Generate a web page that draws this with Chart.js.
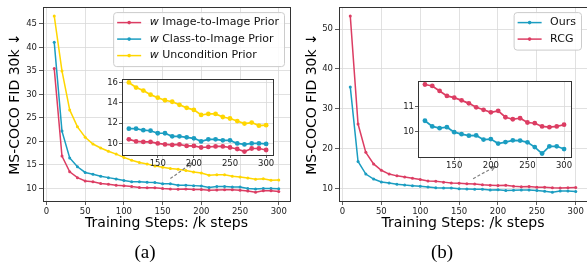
<!DOCTYPE html>
<html>
<head>
<meta charset="UTF-8">
<title>FID vs training steps</title>
<script src="https://cdn.jsdelivr.net/npm/chart.js@4.4.1/dist/chart.umd.min.js"></script>
<style>
  body { margin: 0; background: #fff; overflow: hidden; }
  #fig { position: relative; width: 587px; height: 262px; overflow: hidden; }
  #fig canvas { position: absolute; }
  .cap { position: absolute; top: 240px; transform: translateX(-50%); font-family: "Liberation Serif", "Times New Roman", serif; font-size: 19px; line-height: 24px; }
</style>
</head>
<body>
<div id="fig">
  <canvas id="mainA" width="293" height="262" style="left:0;top:0"></canvas>
  <canvas id="mainB" width="300" height="262" style="left:296px;top:0"></canvas>
  <canvas id="insetA" width="183" height="100" style="left:100px;top:71px"></canvas>
  <canvas id="insetB" width="185" height="100" style="left:396px;top:73px"></canvas>
  <div class="cap" style="left:145px">(a)</div>
  <div class="cap" style="left:442px">(b)</div>
</div>

<script>
// training steps (k)
const steps = [10, 20, 30, 40, 50, 60, 70, 80, 90, 100,
               110, 120, 130, 140, 150, 160, 170, 180, 190, 200,
               210, 220, 230, 240, 250, 260, 270, 280, 290, 300];

// (a) priors
const imgPrior = [35.5, 16.9, 13.55, 12.3, 11.6, 11.4, 11.05, 10.9, 10.7, 10.55,
                  10.4, 10.2, 10.15, 10.15, 10.0, 9.9, 9.85, 9.9, 9.75, 9.75,
                  9.6, 9.65, 9.7, 9.7, 9.6, 9.45, 9.2, 9.5, 9.5, 9.35];
const clsPrior = [41.1, 22.2, 16.5, 14.6, 13.4, 13.0, 12.6, 12.3, 12.0, 11.7,
                  11.45, 11.45, 11.3, 11.25, 11.0, 11.0, 10.7, 10.7, 10.6, 10.5,
                  10.2, 10.4, 10.4, 10.3, 10.3, 10.0, 9.9, 10.0, 10.0, 9.95];
const uncPrior = [46.7, 35.0, 26.7, 23.1, 20.9, 19.45, 18.6, 17.9, 17.3, 16.6,
                  16.0, 15.5, 15.2, 14.8, 14.5, 14.25, 14.1, 13.8, 13.5, 13.3,
                  12.8, 12.9, 12.9, 12.6, 12.45, 12.2, 11.95, 12.05, 11.75, 11.8];

// (b) ours vs RCG
const ours = [35.5, 16.8, 13.65, 12.4, 11.65, 11.4, 11.1, 10.9, 10.75, 10.6,
              10.43, 10.2, 10.13, 10.17, 9.97, 9.89, 9.83, 9.84, 9.67, 9.69,
              9.51, 9.57, 9.64, 9.63, 9.56, 9.37, 9.11, 9.4, 9.4, 9.29];
const rcg = [53.3, 26.2, 19.1, 16.2, 14.6, 13.65, 13.2, 12.9, 12.6, 12.3,
             11.89, 11.83, 11.63, 11.43, 11.36, 11.25, 11.13, 10.97, 10.87, 10.77,
             10.83, 10.57, 10.49, 10.53, 10.36, 10.33, 10.2, 10.17, 10.2, 10.27];

const xTicks = [0, 50, 100, 150, 200, 250, 300];
const yTicksA = [10, 15, 20, 25, 30, 35, 40, 45];
const yTicksB = [10, 20, 30, 40, 50];
const insetXTicks = [150, 200, 250, 300];
const insetYTicksA = [10, 12, 14, 16];
const insetYTicksB = [10, 11];
const insetFrom = 110;

const PINK = '#dc3d63', CYAN = '#1b9dc1', GOLD = '#ffd600';
const FONT = "'DejaVu Sans', sans-serif";

function pts(vals, from) {
  return steps.map((s, i) => ({x: s, y: vals[i]})).filter(p => p.x >= from);
}

function ds(label, vals, color, inset) {
  return {
    label: label,
    data: pts(vals, inset ? insetFrom : 0),
    borderColor: color,
    backgroundColor: color,
    borderWidth: inset ? 1.7 : 1.5,
    pointRadius: inset ? 2.4 : 1.5,
    pointBorderWidth: 0,
    pointHoverRadius: 0
  };
}

// white axes background + full box of spines
const frame = {
  id: 'frame',
  beforeDraw(chart, args, opts) {
    if (!opts.fill) return;
    const {ctx, chartArea: a} = chart;
    ctx.save();
    ctx.fillStyle = '#fff';
    ctx.fillRect(a.left, a.top, a.width, a.height);
    ctx.restore();
  },
  afterDraw(chart) {
    const {ctx, chartArea: a} = chart;
    ctx.save();
    ctx.strokeStyle = '#333';
    ctx.lineWidth = 1;
    ctx.strokeRect(Math.round(a.left) + 0.5, Math.round(a.top) + 0.5,
                   Math.round(a.width), Math.round(a.height));
    ctx.restore();
  }
};

// matplotlib-like legend in the upper right
const keyBox = {
  id: 'keyBox',
  afterDraw(chart, args, opts) {
    if (!opts.show) return;
    const {ctx, chartArea: a} = chart;
    const size = 11, rowH = 16.5, prefix = opts.prefix || '';
    const normal = size + 'px ' + FONT, italic = 'italic ' + size + 'px ' + FONT;
    const items = chart.data.datasets;
    ctx.save();
    const widths = items.map(d => {
      ctx.font = italic;
      const w1 = prefix ? ctx.measureText(prefix + ' ').width : 0;
      ctx.font = normal;
      return w1 + ctx.measureText(d.label).width;
    });
    const w = 4 + 24 + 8.5 + Math.max(...widths) + 5;
    const h = 21 + (items.length - 1) * rowH;
    const x = a.right - 6 - w, y = a.top + 5;
    ctx.beginPath();
    ctx.roundRect(x + 0.5, y + 0.5, w, h, 3);
    ctx.fillStyle = 'rgba(255,255,255,0.85)';
    ctx.fill();
    ctx.strokeStyle = '#cccccc';
    ctx.lineWidth = 1;
    ctx.stroke();
    items.forEach((d, i) => {
      const cy = y + 10.5 + i * rowH;
      ctx.strokeStyle = d.borderColor;
      ctx.lineWidth = 1.5;
      ctx.beginPath();
      ctx.moveTo(x + 4, cy);
      ctx.lineTo(x + 28, cy);
      ctx.stroke();
      ctx.fillStyle = d.borderColor;
      ctx.beginPath();
      ctx.arc(x + 16, cy, 1.8, 0, Math.PI * 2);
      ctx.fill();
      ctx.fillStyle = '#111';
      ctx.textBaseline = 'middle';
      let tx = x + 36.5;
      if (prefix) {
        ctx.font = italic;
        ctx.fillText(prefix, tx, cy);
        tx += ctx.measureText(prefix + ' ').width;
      }
      ctx.font = normal;
      ctx.fillText(d.label, tx, cy);
    });
    ctx.restore();
  }
};

// dashed arrow pointing at the zoomed inset
const pointer = {
  id: 'pointer',
  afterDatasetsDraw(chart, args, opts) {
    if (!opts.from) return;
    const {ctx, scales: {x, y}} = chart;
    const x0 = x.getPixelForValue(opts.from[0]), y0 = y.getPixelForValue(opts.from[1]);
    const x1 = x.getPixelForValue(opts.to[0]), y1 = y.getPixelForValue(opts.to[1]);
    const ang = Math.atan2(y1 - y0, x1 - x0);
    ctx.save();
    ctx.strokeStyle = '#808080';
    ctx.lineWidth = 1.2;
    ctx.setLineDash([3, 2]);
    ctx.beginPath();
    ctx.moveTo(x0, y0);
    ctx.lineTo(x1, y1);
    ctx.stroke();
    ctx.setLineDash([]);
    ctx.beginPath();
    ctx.moveTo(x1 - 5 * Math.cos(ang - 0.45), y1 - 5 * Math.sin(ang - 0.45));
    ctx.lineTo(x1, y1);
    ctx.lineTo(x1 - 5 * Math.cos(ang + 0.45), y1 - 5 * Math.sin(ang + 0.45));
    ctx.stroke();
    ctx.restore();
  }
};

function axes(o) {
  const tick = {font: {family: FONT, size: 8.5}, color: '#222', autoSkip: false, maxRotation: 0, padding: o.tickPad};
  const grid = {color: '#d9d9d9', lineWidth: 0.8, tickLength: o.tickLen, tickColor: '#333'};
  const title = (text, pad) => text
    ? {display: true, text: text, color: '#000', font: {family: FONT, size: 14}, padding: pad}
    : {display: false};
  return {
    x: {
      type: 'linear', min: o.xMin, max: o.xMax,
      ticks: Object.assign({}, tick),
      grid: Object.assign({}, grid),
      border: {color: '#333', width: 1},
      afterBuildTicks: s => { s.ticks = o.xTicks.map(v => ({value: v})); },
      afterFit: s => { s.height = o.xH; },
      title: title(o.xTitle, {top: 0, bottom: 30})
    },
    y: {
      type: 'linear', min: o.yMin, max: o.yMax,
      ticks: Object.assign({}, tick),
      grid: Object.assign({}, grid),
      border: {color: '#333', width: 1},
      afterBuildTicks: s => { s.ticks = o.yTicks.map(v => ({value: v})); },
      afterFit: s => { s.width = o.yW; },
      title: title(o.yTitle, {top: o.yTitlePad, bottom: 0})
    }
  };
}

function makeChart(id, datasets, o, plug) {
  return new Chart(document.getElementById(id), {
    type: 'line',
    data: {datasets: datasets},
    options: {
      responsive: false,
      animation: false,
      devicePixelRatio: 1,
      events: [],
      layout: {padding: o.pad},
      scales: axes(o),
      plugins: Object.assign({legend: {display: false}, tooltip: {enabled: false}}, plug)
    },
    plugins: [frame, keyBox, pointer]
  });
}

const yTitle = 'MS-COCO FID 30k \u2193';
const xTitle = 'Training Steps: /k steps';

makeChart('mainA', [
  ds('Image-to-Image Prior', imgPrior, PINK, false),
  ds('Class-to-Image Prior', clsPrior, CYAN, false),
  ds('Uncondition Prior', uncPrior, GOLD, false)
], {
  pad: {top: 7, left: 0, right: 3, bottom: 0},
  xMin: -4.5, xMax: 314.5, xTicks: xTicks, xH: 61, xTitle: xTitle,
  yMin: 7.33, yMax: 48.57, yTicks: yTicksA, yW: 43, yTitle: yTitle, yTitlePad: 7.3,
  tickLen: 4, tickPad: 2
}, {keyBox: {show: true, prefix: 'w'}, pointer: {from: [160, 12.1], to: [188, 15.4]}});

makeChart('mainB', [
  ds('Ours', ours, CYAN, false),
  ds('RCG', rcg, PINK, false)
], {
  pad: {top: 7, left: 0, right: 9, bottom: 0},
  xMin: -4.5, xMax: 314.5, xTicks: xTicks, xH: 61, xTitle: xTitle,
  yMin: 6.9, yMax: 55.5, yTicks: yTicksB, yW: 43, yTitle: yTitle, yTitlePad: 7.6,
  tickLen: 4, tickPad: 2
}, {keyBox: {show: true}, pointer: {from: [168, 12.5], to: [196, 15.5]}});

makeChart('insetA', [
  ds('Image-to-Image Prior', imgPrior, PINK, true),
  ds('Class-to-Image Prior', clsPrior, CYAN, true),
  ds('Uncondition Prior', uncPrior, GOLD, true)
], {
  pad: {top: 8, left: 0, right: 10, bottom: 0},
  xMin: 100.5, xMax: 309.5, xTicks: insetXTicks, xH: 16,
  yMin: 8.86, yMax: 16.34, yTicks: insetYTicksA, yW: 22,
  tickLen: 3, tickPad: 1
}, {frame: {fill: true}});

makeChart('insetB', [
  ds('Ours', ours, CYAN, true),
  ds('RCG', rcg, PINK, true)
], {
  pad: {top: 8, left: 0, right: 10, bottom: 0},
  xMin: 100.5, xMax: 309.5, xTicks: insetXTicks, xH: 16,
  yMin: 8.97, yMax: 12.03, yTicks: insetYTicksB, yW: 22,
  tickLen: 3, tickPad: 1
}, {frame: {fill: true}});
</script>
</body>
</html>
